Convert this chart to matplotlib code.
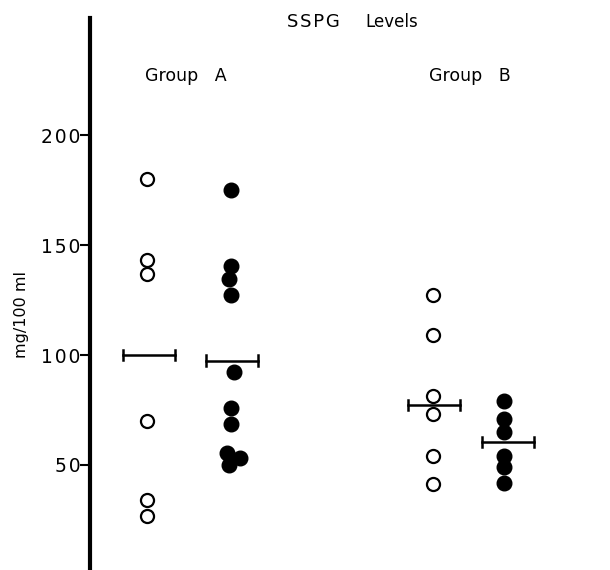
import numpy as np
import matplotlib
matplotlib.use('Agg')
import matplotlib.pyplot as plt

# SSPG levels, mg/100 ml
a_open = [180, 143, 137, 70, 34, 27]
a_filled = [175, 140.5, 134.5, 127.5, 92.5, 76, 68.5, 55.5, 53, 50]
b_open = [127.5, 109, 81.5, 73, 54, 41.5]
b_filled = [79, 71, 65, 54, 49, 42]
means = [100, 97.5, 77.3, 60.3]
group_labels = ['Group   A', 'Group   B']
yticks = [50, 100, 150, 200]

# column positions (x) and small sideways offsets where points touch
pos = [1.10, 2.71, 6.60, 7.97]
mean_pos = [1.13, 2.73, 6.62, 8.03]
a_filled_dx = [0, 0, -0.04, 0, 0.06, 0, 0, -0.08, 0.17, -0.03]


def px(x):
    # horizontal pixel of the reference -> data x
    return (x - 90) / 52.


def py(y):
    # vertical pixel of the reference -> data y
    return 100 + (355 - y) / 2.2


fig = plt.figure(figsize=(6.1, 5.7), dpi=100)
ax = fig.add_axes([90 / 610, 0, 520 / 610, 1])

ax.plot([pos[0]] * len(a_open), a_open, 'o', ms=9.4, mfc='white', mec='black', mew=1.6, linestyle='None')
ax.plot(np.array([pos[1]] * len(a_filled)) + np.array(a_filled_dx), a_filled, 'o', ms=10.5,
        mfc='black', mec='black', linestyle='None')
ax.plot([pos[2]] * len(b_open), b_open, 'o', ms=9.4, mfc='white', mec='black', mew=1.6, linestyle='None')
ax.plot([pos[3]] * len(b_filled), b_filled, 'o', ms=10.5, mfc='black', mec='black', linestyle='None')

# mean bars with end caps
for xm, m in zip(mean_pos, means):
    ax.plot([xm - 0.5, xm + 0.5], [m, m], color='black', lw=1.8, zorder=3)
    ax.plot([xm - 0.5, xm - 0.5], [m - 2.3, m + 2.3], color='black', lw=1.8, zorder=3)
    ax.plot([xm + 0.5, xm + 0.5], [m - 2.3, m + 2.3], color='black', lw=1.8, zorder=3)

ax.set_xlim(0, 10)
ax.set_ylim(py(570), py(0))
for s in ['top', 'right', 'bottom']:
    ax.spines[s].set_visible(False)
ax.spines['left'].set_linewidth(3)
ax.spines['left'].set_bounds(py(570), py(18))
ax.set_xticks([])
ax.set_yticks(yticks)
ax.set_yticklabels(['\u200a'.join(str(t)) for t in yticks], fontsize=13.5)
ax.tick_params(axis='y', length=7, width=1.5, pad=0)

ax.text(px(287), py(22), '\u200a'.join('SSPG'), ha='left', va='center', fontsize=13)
ax.text(px(365), py(22), 'Levels', ha='left', va='center', fontsize=12)
ax.text(px(186), py(76), group_labels[0], ha='center', va='center', fontsize=12.5)
ax.text(px(470), py(76), group_labels[1], ha='center', va='center', fontsize=12.5)
fig.text(22 / 610, 1 - 315 / 570, 'mg/100 ml', rotation=90, ha='center', va='center', fontsize=11.5)

fig.savefig('out.png', dpi=100)
